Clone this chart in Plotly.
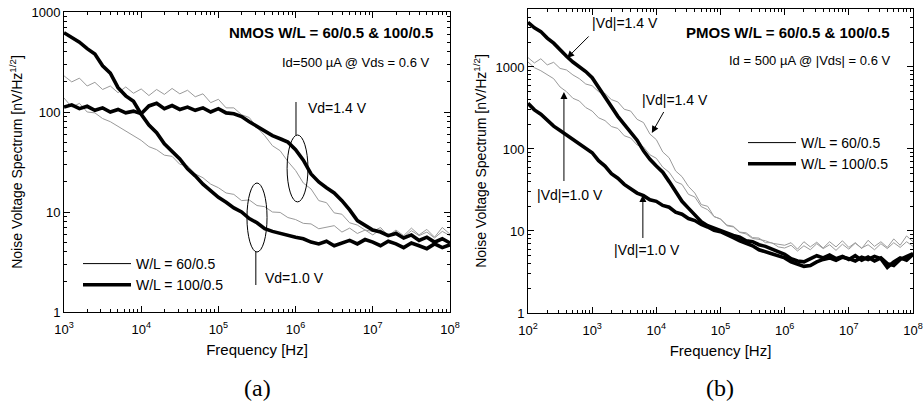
import math
import plotly.graph_objects as go

# ---------------- data ----------------
# NMOS panel: frequencies 1e3 .. 1e8, 10 points per decade
freq_nmos = [10 ** (k / 10) for k in range(30, 81)]
# W/L = 100/0.5 (thick)
nmos_100_vd10 = [620, 560, 500, 430, 380, 290, 245, 175, 145, 128,
                 95, 74, 62, 48, 40, 34, 27, 23, 19, 16.5,
                 14, 12.5, 11, 10, 8.6, 7.8, 6.8, 6.4, 6.1, 5.8,
                 5.6, 5.4, 5.0, 4.8, 5.1, 4.6, 4.9, 5.2, 4.8, 5.3,
                 5.0, 4.6, 5.1, 4.8, 4.4, 4.9, 4.6, 4.3, 4.8, 4.4, 4.7]
nmos_100_vd14 = [112, 118, 108, 114, 104, 110, 100, 106, 98, 102,
                 96, 115, 122, 108, 116, 106, 112, 104, 110, 100,
                 108, 98, 96, 90, 80, 72, 64, 58, 54, 50,
                 42, 33, 24, 20, 17.5, 15.5, 13, 10.5, 8.2, 7.4,
                 6.6, 6.3, 5.8, 6.1, 5.5, 5.9, 5.2, 5.6, 5.0, 5.4, 4.9]
# W/L = 60/0.5 (thin)
nmos_60_vd14 = [230, 200, 218, 182, 198, 168, 182, 156, 178, 154,
                170, 146, 168, 150, 172, 152, 165, 142, 152, 124,
                134, 110, 110, 94, 88, 70, 58, 46, 41, 32,
                26, 19.5, 17, 13, 12.4, 9.8, 9.5, 7.8, 7.4, 6.6,
                6.4, 7.0, 5.8, 6.6, 5.8, 6.9, 5.9, 6.7, 5.6, 7.0, 6.0]
nmos_60_vd10 = [138, 112, 122, 100, 98, 86, 80, 72, 64, 58,
                52, 45, 42, 37, 36, 30, 29, 24, 22, 19,
                17.5, 15.5, 15, 13, 13.2, 11.6, 11.3, 10, 9.9, 8.8,
                8.4, 7.7, 7.6, 6.8, 7.0, 7.3, 6.3, 6.9, 6.1, 6.6,
                5.9, 6.7, 5.7, 6.4, 5.6, 6.5, 5.8, 6.3, 5.5, 6.4, 5.8]

# PMOS panel: frequencies 1e2 .. 1e8, 10 points per decade
freq_pmos = [10 ** (k / 10) for k in range(20, 81)]
pmos_100_vd14 = [3500, 3000, 2700, 2250, 1950, 1600, 1350, 1150, 1000, 880,
                 740, 560, 430, 330, 250, 200, 160, 128, 95, 75,
                 62, 52, 40, 31, 23, 19, 15.5, 13, 11.6, 10.8,
                 10.2, 9.6, 8.8, 8.4, 7.6, 7.4, 6.8, 6.5, 6.0, 5.6,
                 5.2, 4.6, 4.3, 4.2, 4.6, 5.0, 4.7, 5.1, 4.6, 4.9,
                 4.5, 5.0, 4.4, 4.8, 4.3, 4.7, 4.0, 3.8, 4.5, 4.9, 5.3]
pmos_100_vd10 = [360, 300, 265, 225, 190, 168, 148, 128, 115, 100,
                 90, 72, 62, 50, 44, 37, 33, 29, 27, 24,
                 23, 20.5, 19.5, 17, 16, 14.2, 13.4, 12, 11.2, 10.2,
                 9.8, 8.9, 8.3, 7.6, 7.0, 6.6, 5.9, 5.6, 5.3, 5.0,
                 4.7, 4.2, 3.9, 3.7, 3.8, 4.2, 4.5, 4.7, 4.4, 4.8,
                 4.6, 4.3, 4.8, 4.5, 4.9, 4.6, 3.6, 4.2, 4.7, 4.4, 5.2]
pmos_60_vd14 = [1300, 1120, 1260, 1060, 1140, 960, 920, 800, 720, 620,
                590, 500, 475, 400, 375, 305, 290, 230, 210, 152,
                130, 92, 78, 54, 46, 35, 29, 21, 20, 15,
                14, 11.6, 11.2, 9.6, 9.2, 8.1, 7.9, 7.6, 7.1, 6.9,
                6.7, 7.2, 6.0, 7.4, 6.4, 7.3, 6.2, 7.4, 6.4, 7.6,
                6.3, 7.2, 6.1, 7.7, 6.5, 7.4, 6.3, 8.0, 6.7, 8.7, 7.4]
pmos_60_vd10 = [1150, 980, 900, 800, 720, 570, 500, 415, 385, 320,
                290, 240, 222, 188, 178, 145, 136, 112, 106, 85,
                77, 60, 52, 40, 37, 28, 26, 19.8, 18.2, 15,
                14, 11.8, 11.4, 9.7, 9.5, 8.3, 8.2, 7.2, 7.2, 6.4,
                6.2, 6.7, 5.7, 6.6, 5.9, 7.0, 6.1, 6.8, 5.8, 6.9,
                6.0, 7.1, 6.2, 6.8, 5.9, 7.0, 6.1, 7.2, 6.3, 7.4, 6.5]

nmos_xticks = [1e3, 1e4, 1e5, 1e6, 1e7, 1e8]
pmos_xticks = [1e2, 1e3, 1e4, 1e5, 1e6, 1e7, 1e8]
yticks = [1, 10, 100, 1000]
legend_labels = ["W/L = 60/0.5", "W/L = 100/0.5"]

# ---------------- styling ----------------
FONT = "Liberation Sans, Arial, sans-serif"
SERIF = "Liberation Serif, DejaVu Serif, serif"
GRAY = "#9a9a9a"
THIN = 1
THICK = 3.6
W, H = 924, 410


def px(xs):
    return xs / W


def py(ys):
    return 1 - ys / H


def sup_labels(vals):
    return ["10<sup>%d</sup>" % round(math.log10(v)) for v in vals]


def minor_vals(lo_exp, hi_exp):
    return [m * 10 ** e for e in range(lo_exp, hi_exp) for m in range(2, 10)]


fig = go.Figure()

panels = [
    ("x", "y", freq_nmos, [nmos_60_vd14, nmos_60_vd10], [nmos_100_vd14, nmos_100_vd10]),
    ("x2", "y2", freq_pmos, [pmos_60_vd14, pmos_60_vd10], [pmos_100_vd14, pmos_100_vd10]),
]
for xa, ya, fr, thin_series, thick_series in panels:
    for s in thin_series:
        fig.add_trace(go.Scatter(x=fr, y=s, mode="lines", line=dict(color=GRAY, width=THIN),
                                 xaxis=xa, yaxis=ya, showlegend=False))
    for s in thick_series:
        fig.add_trace(go.Scatter(x=fr, y=s, mode="lines", line=dict(color="black", width=THICK),
                                 xaxis=xa, yaxis=ya, showlegend=False))

# legend entries
for lg, xa, ya in (("legend", "x", "y"), ("legend2", "x2", "y2")):
    for lab, w in zip(legend_labels, (THIN, THICK)):
        fig.add_trace(go.Scatter(x=[None], y=[None], mode="lines", name=lab,
                                 line=dict(color="black", width=w),
                                 xaxis=xa, yaxis=ya, legend=lg))

axis_common = dict(type="log", showline=True, linecolor="black", linewidth=1, mirror="allticks",
                   ticks="inside", ticklen=6, tickwidth=1, tickcolor="black", showgrid=False,
                   zeroline=False, tickfont=dict(family=FONT, size=13, color="black"),
                   tickmode="array", automargin=False, ticklabeloverflow="allow")


def minor(lo, hi):
    return dict(ticks="inside", ticklen=3, tickcolor="black", tickmode="array",
                tickvals=minor_vals(lo, hi), showgrid=False)


ytitle = "Noise Voltage Spectrum [nV/Hz<sup>1/2</sup>]"

fig.update_layout(
    width=W, height=H, margin=dict(l=0, r=0, t=0, b=0),
    paper_bgcolor="white", plot_bgcolor="white",
    font=dict(family=FONT, color="black"),
    xaxis=dict(axis_common, domain=[px(64), px(450)], range=[3, 8], anchor="y",
               tickvals=nmos_xticks, ticktext=sup_labels(nmos_xticks), minor=minor(3, 8),
               ticklabelstandoff=5,
               title=dict(text="Frequency [Hz]", font=dict(family=FONT, size=15), standoff=8)),
    yaxis=dict(axis_common, domain=[py(312), py(12)], range=[0, 3], anchor="x",
               tickvals=yticks, ticktext=[str(v) for v in yticks], minor=minor(0, 3),
               title=dict(text=ytitle, font=dict(family=FONT, size=14), standoff=5)),
    xaxis2=dict(axis_common, domain=[px(528), px(913)], range=[2, 8], anchor="y2",
                tickvals=pmos_xticks, ticktext=sup_labels(pmos_xticks), minor=minor(2, 8),
                ticklabelstandoff=5,
                title=dict(text="Frequency [Hz]", font=dict(family=FONT, size=15), standoff=8)),
    yaxis2=dict(axis_common, domain=[py(313), py(9)], range=[0, 3.707], anchor="x2",
                tickvals=yticks, ticktext=[str(v) for v in yticks], minor=minor(0, 4),
                title=dict(text=ytitle, font=dict(family=FONT, size=14), standoff=5)),
    legend=dict(x=px(78), y=py(248), xanchor="left", yanchor="top",
                bgcolor="rgba(0,0,0,0)", font=dict(family=FONT, size=14),
                itemwidth=48, tracegroupgap=0),
    legend2=dict(x=px(743), y=py(127), xanchor="left", yanchor="top",
                 bgcolor="rgba(0,0,0,0)", font=dict(family=FONT, size=14),
                 itemwidth=48, tracegroupgap=0),
)

ann = []
# titles
ann.append(dict(xref="x domain", yref="y domain", x=0.961, y=0.933, xanchor="right", yanchor="middle",
                text="<b>NMOS W/L = 60/0.5 &amp; 100/0.5</b>", showarrow=False,
                font=dict(family=FONT, size=15)))
ann.append(dict(xref="x domain", yref="y domain", x=0.953, y=0.833, xanchor="right", yanchor="middle",
                text="Id=500 µA @ Vds = 0.6 V", showarrow=False, font=dict(family=FONT, size=13)))
ann.append(dict(xref="x2 domain", yref="y2 domain", x=0.945, y=0.924, xanchor="right", yanchor="middle",
                text="<b>PMOS W/L = 60/0.5 &amp; 100/0.5</b>", showarrow=False,
                font=dict(family=FONT, size=15)))
ann.append(dict(xref="x2 domain", yref="y2 domain", x=0.945, y=0.832, xanchor="right", yanchor="middle",
                text="Id = 500 µA @ |Vds| = 0.6 V", showarrow=False, font=dict(family=FONT, size=13)))
# NMOS labels
ann.append(dict(xref="x", yref="y", x=6.135, y=2.04, xanchor="left", yanchor="middle",
                text="Vd=1.4 V", showarrow=False, font=dict(family=FONT, size=14)))
ann.append(dict(xref="x", yref="y", x=5.578, y=0.34, xanchor="left", yanchor="middle",
                text="Vd=1.0 V", showarrow=False, font=dict(family=FONT, size=14)))
# PMOS labels
for (lx, ly, txt) in ((3.51, 3.54, "|Vd|=1.4 V"), (4.29, 2.60, "|Vd|=1.4 V"),
                      (2.654, 1.439, "|Vd|=1.0 V"), (3.85, 0.768, "|Vd|=1.0 V")):
    ann.append(dict(xref="x2", yref="y2", x=lx, y=ly, xanchor="center", yanchor="middle",
                    text=txt, showarrow=False, font=dict(family=FONT, size=14)))
# PMOS arrows (tip in data coords, tail offset in px)
for (tx, ty, axp, ayp) in ((2.61, 3.11, 23, -23), (3.93, 2.195, 13, -23),
                           (2.56, 2.695, 0, 91), (3.79, 1.439, 0, 45)):
    ann.append(dict(xref="x2", yref="y2", x=tx, y=ty, ax=axp, ay=ayp, text=" ", showarrow=True,
                    arrowhead=2, arrowsize=1.4, arrowwidth=1, arrowcolor="black",
                    font=dict(size=1)))
# panel captions
ann.append(dict(xref="paper", yref="paper", x=px(257), y=py(388), text="(a)", showarrow=False,
                xanchor="center", yanchor="middle", font=dict(family=SERIF, size=24)))
ann.append(dict(xref="paper", yref="paper", x=px(720), y=py(388), text="(b)", showarrow=False,
                xanchor="center", yanchor="middle", font=dict(family=SERIF, size=24)))
fig.update_layout(annotations=ann)

# ellipses and leader lines (NMOS), in axis-domain fractions
shapes = [
    dict(type="circle", xref="x domain", yref="y domain", x0=0.578, x1=0.632, y0=0.367, y1=0.59,
         line=dict(color="black", width=1)),
    dict(type="circle", xref="x domain", yref="y domain", x0=0.474, x1=0.526, y0=0.20, y1=0.43,
         line=dict(color="black", width=1)),
    dict(type="line", xref="x domain", yref="y domain", x0=0.601, x1=0.601, y0=0.59, y1=0.70,
         line=dict(color="black", width=1)),
    dict(type="line", xref="x domain", yref="y domain", x0=0.497, x1=0.497, y0=0.09, y1=0.20,
         line=dict(color="black", width=1)),
]
fig.update_layout(shapes=shapes)

# remove the browser's default 8px body margin so the figure sits at the page origin
fig.write_html("out.html", config={"displayModeBar": False},
               post_script="document.body.style.margin='0px';")
